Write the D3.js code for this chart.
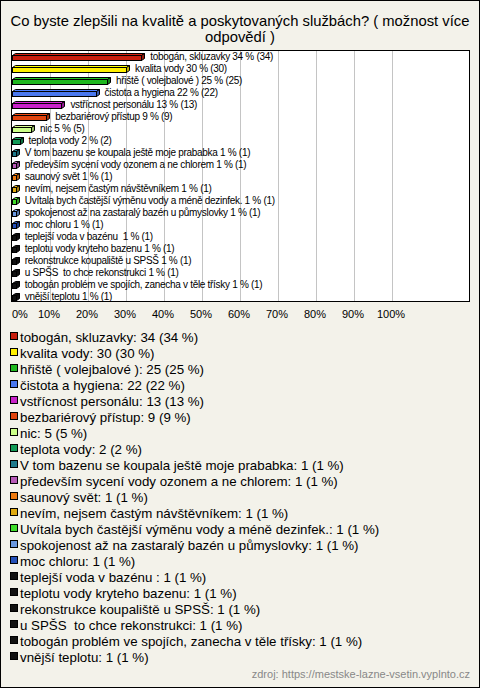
<!DOCTYPE html>
<html><head><meta charset="utf-8">
<script src="https://cdn.jsdelivr.net/npm/d3@7"></script>
<style>
html,body{margin:0;padding:0;background:#f3f2ea;}
svg{display:block;}
text{white-space:pre;font-family:Arial,"Liberation Sans",sans-serif;}
</style></head>
<body>
<script>
const titleLines = ["Co byste zlepšili na kvalitě a poskytovaných službách? ( možnost více", "odpovědí )"];
const categories = [
  "tobogán, skluzavky","kvalita vody","hřiště ( volejbalové )","čistota a hygiena","vstřícnost personálu",
  "bezbariérový přístup","nic","teplota vody","V tom bazenu se koupala ještě moje prababka",
  "především sycení vody ozonem a ne chlorem","saunový svět","nevím, nejsem častým návštěvníkem",
  "Uvítala bych častější výměnu vody a méně dezinfek.","spokojenost až na zastaralý bazén u půmyslovky",
  "moc chloru","teplejší voda v bazénu ","teplotu vody kryteho bazenu","rekonstrukce koupaliště u SPSŠ",
  "u SPŠS  to chce rekonstrukci","tobogán problém ve spojích, zanecha v těle třísky","vnější teplotu"
];
const counts   = [34,30,25,22,13,9,5,2,1,1,1,1,1,1,1,1,1,1,1,1,1];
const percents = [34,30,25,22,13,9,5,2,1,1,1,1,1,1,1,1,1,1,1,1,1];
const colors = ["#c8200f","#fff000","#1fb81f","#4a78ee","#c822c8","#e0440e","#ccff88","#119955","#1f7a8c",
  "#b75ab7","#ee7a10","#e0aa10","#3fdc2a","#6a98e0","#2450b8","#111111","#111111","#111111","#111111","#111111","#111111"];
const xTicks = [0,10,20,30,40,50,60,70,80,90,100];
const source = "zdroj: https://mestske-lazne-vsetin.vyplnto.cz";

const W = 480, H = 688;
const svg = d3.select("body").append("svg").attr("width", W).attr("height", H);
svg.append("rect").attr("x",0.5).attr("y",0.5).attr("width",W-1).attr("height",H-1)
  .attr("fill","#f3f2ea").attr("stroke","#000");

const title = svg.append("text").attr("text-anchor","middle").attr("font-size",14.8).attr("fill","#000");
titleLines.forEach((t,i)=>title.append("tspan").attr("x",W/2).attr("y",26+i*16).text(t));

const plot = {l:11, t:50, r:470, b:302};
svg.append("rect").attr("x",plot.l+0.5).attr("y",plot.t+0.5).attr("width",plot.r-plot.l-1).attr("height",plot.b-plot.t-1)
  .attr("fill","#fff").attr("stroke","none");

const x = d3.scaleLinear().domain([0,100]).range([12,392]);
const y = d3.scaleBand().domain(categories).range([plot.t, plot.b]);

svg.append("g").selectAll("line").data(xTicks.filter(d=>d>0)).join("line")
  .attr("x1",d=>Math.round(x(d))+0.5).attr("x2",d=>Math.round(x(d))+0.5)
  .attr("y1",plot.t).attr("y2",plot.b).attr("stroke","#c4c4c4").attr("stroke-width",1);

svg.append("rect").attr("x",plot.l+0.5).attr("y",plot.t+0.5).attr("width",plot.r-plot.l-1).attr("height",plot.b-plot.t-1)
  .attr("fill","none").attr("stroke","#000");

const dx = 3, dy = -2, bh = 5;
const bars = svg.append("g");
categories.forEach((c,i)=>{
  const x0 = x(0)+0.5, x1 = Math.round(x(percents[i]))+0.5;
  const yc = y(c) + y.bandwidth()/2;
  const y0 = Math.round(yc - 1.5)+0.5;
  const col = d3.color(colors[i]);
  const dark = col.darker(0.8);
  bars.append("polygon")
    .attr("points",[[x0,y0],[x0+dx,y0+dy],[x1+dx,y0+dy],[x1,y0]].join(" "))
    .attr("fill",col.brighter(0.2)).attr("stroke","#000").attr("stroke-width",1);
  bars.append("polygon")
    .attr("points",[[x1,y0],[x1+dx,y0+dy],[x1+dx,y0+dy+bh],[x1,y0+bh]].join(" "))
    .attr("fill",dark).attr("stroke","#000").attr("stroke-width",1);
  bars.append("rect").attr("x",x0).attr("y",y0).attr("width",x1-x0).attr("height",bh)
    .attr("fill",col).attr("stroke","#000").attr("stroke-width",1);
  bars.append("text").attr("x",x(percents[i])+9).attr("y",yc+3.5)
    .attr("font-size",10).attr("letter-spacing",-0.3).attr("fill","#000")
    .text(c+" "+percents[i]+" % ("+counts[i]+")");
});

svg.append("g").selectAll("text").data(xTicks).join("text")
  .attr("x",(d,i)=>i===0? x(d) : x(d)-1)
  .attr("text-anchor",(d,i)=>i===0?"start":"middle")
  .attr("y",318).attr("font-size",11).attr("fill","#000")
  .text(d=>d+"%");

const leg = svg.append("g");
categories.forEach((c,i)=>{
  const yc = 337 + i*16;
  leg.append("rect").attr("x",10.5).attr("y",yc-4.5).attr("width",7).attr("height",7)
    .attr("fill",colors[i]).attr("stroke","#000").attr("stroke-width",1);
  leg.append("text").attr("x",20).attr("y",yc+4.5).attr("font-size",13.3).attr("fill","#000")
    .text(c+": "+counts[i]+" ("+percents[i]+" %)");
});

svg.append("text").attr("x",470).attr("y",678).attr("text-anchor","end")
  .attr("font-size",11).attr("fill","#888").text(source);
</script>
</body></html>
